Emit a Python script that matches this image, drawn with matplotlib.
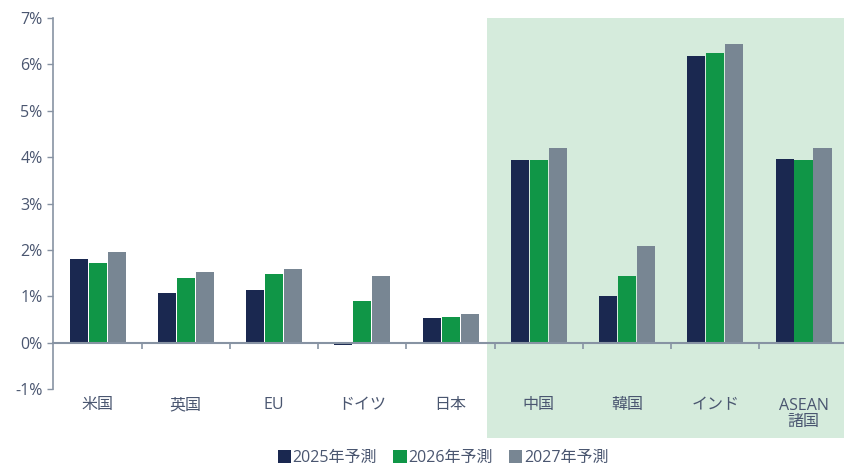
import matplotlib
matplotlib.use('Agg')
import matplotlib.pyplot as plt
from matplotlib.patches import Rectangle

plt.rcParams['font.family'] = ['Open Sans', 'Noto Sans CJK JP', 'DejaVu Sans']

# データ
countries = ['米国', '英国', 'EU', 'ドイツ', '日本', '中国', '韓国', 'インド', 'ASEAN\n諸国']
series_names = ['2025年予測', '2026年予測', '2027年予測']
g2025 = [1.81, 1.08, 1.14, -0.05, 0.54, 3.94, 1.01, 6.19, 3.97]
g2026 = [1.72, 1.40, 1.47, 0.90, 0.56, 3.94, 1.44, 6.25, 3.94]
g2027 = [1.96, 1.53, 1.59, 1.44, 0.62, 4.20, 2.09, 6.44, 4.20]
yticks = [-1, 0, 1, 2, 3, 4, 5, 6, 7]

colors = ['#1a2850', '#109647', '#788693']
text_color = '#4a5670'
axis_color = '#8793a3'

fig = plt.figure(figsize=(8.45, 4.66), dpi=100)
ax = fig.add_axes([53.5 / 845, 77 / 466, (845 - 53.5) / 845, 371 / 466])
ax.set_facecolor('none')

# 新興国の背景
ax.add_patch(Rectangle((487 / 845, (466 - 437.5) / 466), (845 - 487) / 845, (437.5 - 18) / 466,
                       transform=fig.transFigure, facecolor='#d5ebdc', edgecolor='none',
                       zorder=0, clip_on=False))

x = range(len(countries))
step = 0.215
width = 0.205
for k, vals in enumerate([g2025, g2026, g2027]):
    ax.bar([i + (k - 1) * step for i in x], vals, width=width, color=colors[k],
           label=series_names[k], zorder=3)

ax.set_xlim(-0.5, 8.47)
ax.set_ylim(-1, 7)
ax.set_yticks(yticks)
ax.set_yticklabels([f'{t}%' for t in yticks], fontsize=11.5, color=text_color)

for s in ['top', 'right']:
    ax.spines[s].set_visible(False)
ax.spines['left'].set_color(axis_color)
ax.spines['left'].set_linewidth(1.2)
ax.spines['bottom'].set_position(('data', 0))
ax.spines['bottom'].set_color(axis_color)
ax.spines['bottom'].set_linewidth(1.5)
ax.spines['bottom'].set_zorder(4)
ax.tick_params(axis='y', color=axis_color, length=4, width=1, pad=4)

ax.set_xticks([i + 0.5 for i in range(len(countries) - 1)])
ax.set_xticklabels([])
ax.tick_params(axis='x', color=axis_color, length=4, width=1.2, direction='out')

for i, name in enumerate(countries):
    if '\n' in name:
        ax.text(i, -1.53, name, ha='center', va='center', fontsize=11.5, color=text_color,
                linespacing=1.0, clip_on=False)
    else:
        ax.text(i, -1.35, name, ha='center', va='center', fontsize=11.5, color=text_color,
                clip_on=False)

leg = fig.legend(loc='center', bbox_to_anchor=(443 / 845, 1 - 458 / 466), ncol=3, frameon=False,
                 fontsize=11.5, handlelength=0.85, handleheight=0.85, handletextpad=0.1,
                 columnspacing=1.0, borderaxespad=0)
for t in leg.get_texts():
    t.set_color(text_color)

fig.savefig('out.png', dpi=100, facecolor='white')
